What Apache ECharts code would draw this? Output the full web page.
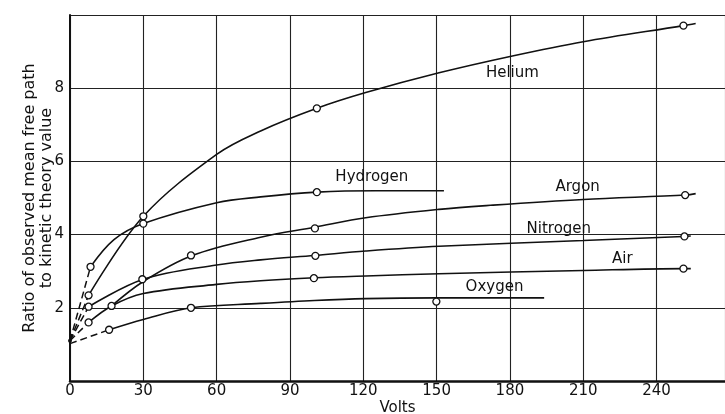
<!DOCTYPE html>
<html>
<head>
<meta charset="utf-8">
<script src="https://cdn.jsdelivr.net/npm/echarts@6/dist/echarts.min.js"></script>
<style>
  html, body { margin: 0; padding: 0; background: #fff; }
  #chart { width: 725px; height: 414px; }
</style>
</head>
<body>
<div id="chart"></div>
<script>
// tick labels
var xTicks = [0, 30, 60, 90, 120, 150, 180, 210, 240]
var yTicks = [2, 4, 6, 8]

// fitted curves [volts, ratio]
var heliumCurve = [[7.6, 2.34], [30, 4.5], [60, 6.19], [78, 6.83], [101, 7.45], [121, 7.88], [151, 8.42], [181, 8.88], [210, 9.27], [251, 9.71], [256, 9.77]]
var hydrogenCurve = [[8.4, 3.12], [18, 3.86], [30, 4.3], [60, 4.87], [78, 5.03], [101, 5.16], [125, 5.2], [153, 5.2]]
var argonCurve = [[17, 2.05], [30, 2.72], [50, 3.43], [78, 3.93], [100, 4.2], [121, 4.46], [151, 4.69], [172, 4.8], [210, 4.96], [252, 5.08], [256, 5.12]]
var nitrogenCurve = [[7.6, 2.03], [30, 2.78], [60, 3.17], [78, 3.31], [100, 3.43], [121, 3.55], [151, 3.68], [210, 3.84], [251, 3.95], [254, 3.96]]
var airCurve = [[7.6, 1.6], [17, 2.05], [30, 2.39], [60, 2.64], [78, 2.74], [100, 2.82], [121, 2.87], [151, 2.93], [210, 3.02], [251, 3.07], [254, 3.07]]
var oxygenCurve = [[16, 1.4], [30, 1.68], [49.5, 2.0], [78, 2.12], [100, 2.2], [121, 2.25], [150, 2.27], [194, 2.27]]

// extrapolated (dashed) starts toward zero volts
var heliumDash = [[0, 1.1], [7.6, 2.34]]
var hydrogenDash = [[0, 1.1], [8.4, 3.12]]
var nitrogenDash = [[0, 1.1], [7.6, 2.03]]
var airDash = [[0, 1.1], [7.6, 1.6]]
var oxygenDash = [[0, 1.02], [16, 1.4]]

// observed points
var heliumObs = [[7.6, 2.34], [30, 4.5], [101, 7.45], [251, 9.71]]
var hydrogenObs = [[8.4, 3.12], [30, 4.3], [101, 5.16]]
var argonObs = [[49.5, 3.43], [100.2, 4.17], [251.7, 5.08]]
var nitrogenObs = [[7.6, 2.03], [29.6, 2.78], [100.4, 3.42], [251.4, 3.95]]
var airObs = [[7.6, 1.6], [17, 2.05], [99.8, 2.81], [251, 3.07]]
var oxygenObs = [[16, 1.4], [49.5, 2.0], [149.9, 2.17]]

var gasNames = ['Helium', 'Hydrogen', 'Argon', 'Nitrogen', 'Air', 'Oxygen']
var labelAt = [[181, 8.4], [123.5, 5.57], [207.7, 5.29], [200, 4.14], [226, 3.32], [173.7, 2.56]]

var font = 'DejaVu Sans'
var ink = '#111'

function curve(d) {
  return { type: 'line', data: d, smooth: 0.35, symbol: 'none', lineStyle: { color: ink, width: 1.6 }, z: 3 }
}
function dash(d) {
  return { type: 'line', data: d, symbol: 'none', lineStyle: { color: ink, width: 1.5, type: [7, 4] }, z: 3 }
}
function obs(d) {
  return {
    type: 'scatter', data: d, symbol: 'circle', symbolSize: 7,
    itemStyle: { color: '#fff', borderColor: ink, borderWidth: 1.3, opacity: 1 }, z: 5
  }
}

var series = []
;[heliumCurve, hydrogenCurve, argonCurve, nitrogenCurve, airCurve, oxygenCurve].forEach(function (c) { series.push(curve(c)) })
;[heliumDash, hydrogenDash, nitrogenDash, airDash, oxygenDash].forEach(function (c) { series.push(dash(c)) })
;[heliumObs, hydrogenObs, argonObs, nitrogenObs, airObs, oxygenObs].forEach(function (c) { series.push(obs(c)) })
series.push({
  type: 'scatter',
  symbolSize: 0,
  itemStyle: { opacity: 1 },
  data: gasNames.map(function (n, i) { return { name: n, value: labelAt[i] } }),
  label: {
    show: true, position: 'inside', formatter: '{b}',
    color: ink, fontFamily: font, fontSize: 15
  },
  z: 6
})

// origin dot where the dashed lines meet
series.push({
  type: 'scatter', data: [[0, 1.1]], symbolSize: 4,
  itemStyle: { color: ink, opacity: 1 }, z: 4
})

var chart = echarts.init(document.getElementById('chart'))
chart.setOption({
  animation: false,
  backgroundColor: '#fff',
  grid: { left: 70, right: 0, top: 15, bottom: 33, outerBoundsMode: 'none' },
  xAxis: {
    type: 'value', min: 0, max: 268, interval: 30,
    name: 'Volts', nameLocation: 'middle', nameGap: 20, nameMoveOverlap: false,
    nameTextStyle: { color: ink, fontFamily: font, fontSize: 15 },
    axisLine: { lineStyle: { color: ink, width: 2.5 } },
    axisTick: { show: false },
    axisLabel: {
      margin: 3, color: ink, fontFamily: font, fontSize: 15,
      formatter: function (v) { return xTicks.indexOf(v) >= 0 ? String(v) : '' }
    },
    splitLine: { show: true, lineStyle: { color: '#222', width: 1.1 } }
  },
  yAxis: {
    type: 'value', min: 0, max: 10, interval: 2,
    name: 'Ratio of observed mean free path\nto kinetic theory value',
    nameLocation: 'middle', nameGap: 15, nameRotate: 90, nameMoveOverlap: false,
    nameTextStyle: { color: ink, fontFamily: font, fontSize: 16, lineHeight: 17 },
    axisLine: { show: true, lineStyle: { color: ink, width: 2 } },
    axisTick: { show: false },
    axisLabel: {
      margin: 6, color: ink, fontFamily: font, fontSize: 15,
      formatter: function (v) { return yTicks.indexOf(v) >= 0 ? String(v) : '' }
    },
    splitLine: { show: true, lineStyle: { color: '#222', width: 1.1 } }
  },
  series: series
})
</script>
</body>
</html>
